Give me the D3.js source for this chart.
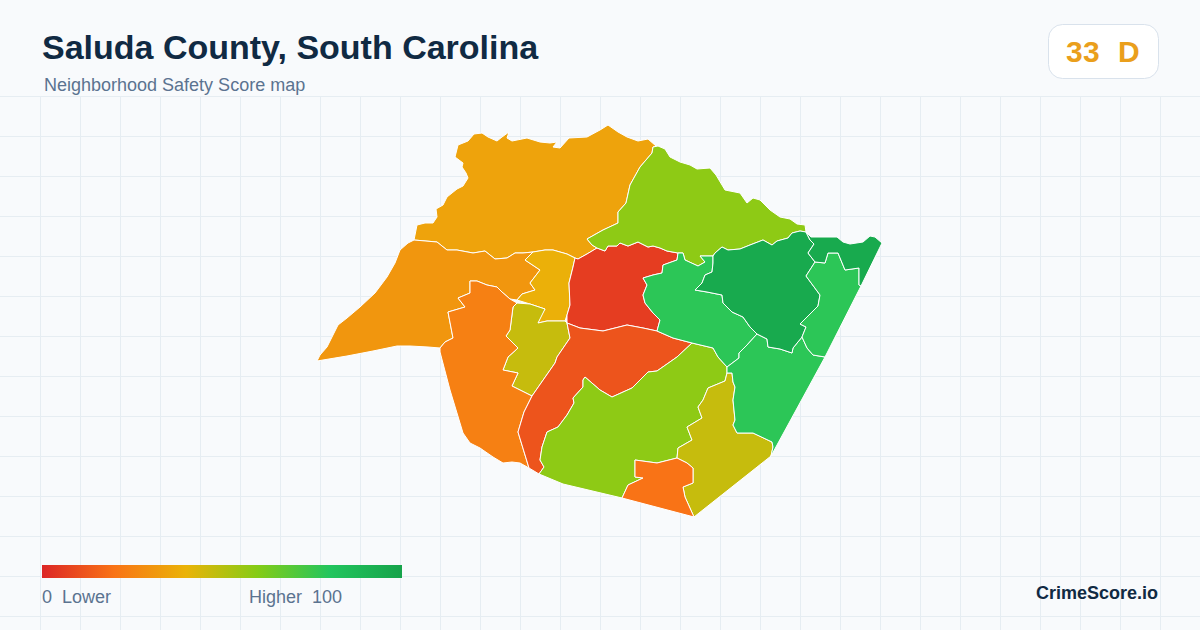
<!DOCTYPE html>
<html>
<head>
<meta charset="utf-8">
<title>Saluda County, South Carolina</title>
<script src="https://cdn.jsdelivr.net/npm/d3@7"></script>
<style>
  html, body { margin: 0; padding: 0; background: #f8fafc; }
  text { font-family: "Liberation Sans", Arial, sans-serif; white-space: pre; }
</style>
</head>
<body>
<div id="chart"></div>
<script>
// tract outlines, traced in map units
const northWest = [[414,240],[417,225],[425,223],[433,223],[437,217],[436,209],[443,205],[447,197],[457,189],[463,186],[468,178],[466,173],[462,167],[463,163],[455,157],[458,145],[468,141],[474,134],[482,133],[488,137],[497,141],[502,137],[509,132],[507,138],[512,141],[527,138],[540,142],[550,143],[557,142],[553,147],[560,148],[569,138],[587,137],[600,130],[608,125],[618,132],[627,137],[638,141],[648,139],[656,146],[653,147],[652,153],[640,167],[630,185],[626,203],[618,212],[618,223],[603,230],[587,239],[592,245],[597,248],[587,254],[578,259],[575,258],[567,254],[553,250],[545,250],[533,252],[523,253],[515,253],[507,258],[495,259],[485,251],[473,253],[457,250],[447,250],[437,242]];
const west = [[414,240],[437,242],[447,250],[457,250],[473,253],[485,251],[495,259],[507,258],[515,253],[523,253],[533,252],[525,260],[540,270],[530,283],[535,290],[522,294],[517,300],[510,299],[502,292],[497,287],[487,285],[477,281],[470,281],[470,293],[458,298],[465,307],[448,312],[453,338],[445,342],[440,348],[428,347],[410,346],[397,346],[373,351],[347,356],[317,361],[320,355],[327,347],[332,337],[338,325],[347,318],[360,307],[375,293],[387,277],[395,263],[400,250],[408,243]];
const westCentre = [[533,252],[545,250],[553,250],[567,254],[575,258],[573,267],[569,283],[570,305],[567,315],[565,321],[547,321],[538,323],[540,317],[545,309],[530,304],[517,300],[522,294],[535,290],[530,283],[540,270],[525,260]];
const southCentreWest = [[517,303],[530,304],[545,309],[538,323],[547,321],[565,321],[567,323],[570,338],[557,357],[555,363],[532,396],[512,386],[518,373],[503,370],[508,357],[518,348],[506,336],[510,330],[513,307]];
const southWest = [[440,348],[445,342],[453,338],[448,312],[465,307],[458,298],[470,293],[470,281],[477,281],[487,285],[497,287],[502,292],[510,299],[517,303],[513,307],[510,330],[506,336],[518,348],[508,357],[503,370],[518,373],[512,386],[532,396],[524,412],[518,432],[529,468],[520,463],[512,462],[503,463],[493,457],[480,448],[470,443],[463,433],[450,390],[440,352]];
const centre = [[575,258],[578,259],[587,254],[597,248],[605,251],[608,246],[617,246],[620,243],[628,246],[638,242],[648,247],[653,246],[660,248],[667,251],[678,253],[677,260],[663,265],[662,273],[653,275],[643,278],[647,285],[643,295],[645,303],[653,313],[660,320],[657,331],[643,328],[627,325],[603,331],[580,328],[567,323],[567,315],[570,305],[569,283],[573,267]];
const centreSouth = [[567,323],[580,328],[603,331],[627,325],[643,328],[657,331],[673,338],[692,343],[677,357],[657,371],[648,372],[637,383],[632,388],[612,397],[600,390],[585,377],[583,380],[583,387],[573,398],[574,403],[567,415],[558,427],[547,432],[542,447],[540,460],[544,467],[539,474],[529,468],[518,432],[524,412],[532,396],[555,363],[557,357],[570,338]];
const south = [[692,343],[713,348],[718,357],[727,367],[727,373],[725,381],[708,388],[703,400],[698,407],[702,418],[687,427],[692,440],[678,448],[677,458],[657,463],[635,460],[635,477],[643,478],[628,485],[622,498],[563,484],[539,474],[544,467],[540,460],[542,447],[547,432],[558,427],[567,415],[574,403],[573,398],[583,387],[583,380],[585,377],[600,390],[612,397],[632,388],[637,383],[648,372],[657,371],[677,357]];
const southEastOlive = [[727,373],[732,373],[733,382],[735,387],[733,400],[735,420],[733,425],[737,433],[753,433],[772,442],[773,447],[771,456],[694,517],[685,497],[683,487],[693,483],[693,468],[687,463],[677,458],[678,448],[692,440],[687,427],[702,418],[698,407],[703,400],[708,388],[725,381]];
const southTip = [[622,498],[628,485],[643,478],[635,477],[635,460],[657,463],[677,458],[687,463],[693,468],[693,483],[683,487],[685,497],[694,517]];
const northEast = [[653,147],[658,146],[665,149],[670,157],[680,162],[690,165],[697,169],[710,168],[716,175],[725,190],[740,193],[747,203],[753,198],[760,200],[770,210],[780,217],[790,219],[797,224],[805,225],[806,232],[800,231],[792,233],[788,238],[777,241],[772,245],[763,240],[750,245],[740,249],[728,250],[722,247],[715,253],[713,256],[700,256],[705,262],[698,266],[685,260],[683,253],[678,253],[667,251],[660,248],[653,246],[648,247],[638,242],[628,246],[620,243],[617,246],[608,246],[605,251],[597,248],[592,245],[587,239],[603,230],[618,223],[618,212],[626,203],[630,185],[640,167],[652,153]];
const eastCentre = [[678,253],[683,253],[685,260],[698,266],[705,262],[700,256],[713,256],[713,263],[712,272],[705,275],[702,283],[695,290],[707,292],[722,295],[723,303],[732,312],[743,317],[750,327],[757,334],[747,345],[739,353],[739,358],[727,367],[718,357],[713,348],[692,343],[673,338],[657,331],[660,320],[653,313],[645,303],[643,295],[647,285],[643,278],[653,275],[662,273],[663,265],[677,260]];
const southEast = [[727,373],[727,367],[739,358],[739,353],[747,345],[757,334],[767,339],[768,347],[780,349],[792,353],[793,348],[802,337],[807,348],[813,355],[825,357],[771,456],[773,447],[772,442],[753,433],[737,433],[733,425],[735,420],[733,400],[735,387],[733,382],[732,373]];
const eastDark = [[713,256],[715,253],[722,247],[728,250],[740,249],[750,245],[763,240],[772,245],[777,241],[788,238],[792,233],[800,231],[806,232],[810,240],[814,244],[808,253],[815,262],[806,276],[820,295],[818,306],[800,324],[806,327],[802,337],[793,348],[792,353],[780,349],[768,347],[767,339],[757,334],[750,327],[743,317],[732,312],[723,303],[722,295],[707,292],[695,290],[702,283],[705,275],[712,272],[713,263]];
const eastStrip = [[815,262],[825,263],[828,253],[838,253],[845,270],[859,268],[859,285],[861,286],[825,357],[813,355],[807,348],[802,337],[806,327],[800,324],[818,306],[820,295],[806,276]];
const northEastCorner = [[806,232],[811,237],[823,237],[837,237],[843,242],[850,244],[863,242],[870,236],[875,237],[882,243],[861,286],[859,285],[859,268],[845,270],[838,253],[828,253],[825,263],[815,262],[808,253],[814,244],[810,240]];

const tractShapes = [northWest, west, westCentre, southCentreWest, southWest, centre, centreSouth, south, southEastOlive, southTip, northEast, eastCentre, southEast, eastDark, eastStrip, northEastCorner];
const tractScores = [35, 31, 39, 47, 24, 6, 12, 58, 47, 20, 58, 78, 78, 96, 78, 96];

const legendStops = [0, 20, 40, 60, 80, 100];
const legendColors = ["#dc2626", "#f97316", "#eab308", "#84cc16", "#22c55e", "#16a34a"];
const countyName = "Saluda County, South Carolina";
const subtitle = "Neighborhood Safety Score map";
const scoreLabel = "33  D";
const lowLabel = "0  Lower";
const highLabel = "Higher  100";

const width = 1200;
const height = 630;

const svg = d3.select("#chart")
    .append("svg")
    .attr("width", width)
    .attr("height", height)
    .style("display", "block");

svg.append("rect")
    .attr("width", width)
    .attr("height", height)
    .attr("fill", "#f8fafc");

// background grid
const gridX = d3.range(40, width, 40);
const gridY = d3.range(96, height, 40);

svg.selectAll("line.vgrid")
    .data(gridX)
    .enter()
    .append("line")
    .attr("class", "vgrid")
    .attr("x1", d => d + 0.5)
    .attr("x2", d => d + 0.5)
    .attr("y1", 96)
    .attr("y2", height)
    .attr("stroke", "#e6edf2")
    .attr("stroke-width", 1);

svg.selectAll("line.hgrid")
    .data(gridY)
    .enter()
    .append("line")
    .attr("class", "hgrid")
    .attr("x1", 0)
    .attr("x2", width)
    .attr("y1", d => d + 0.5)
    .attr("y2", d => d + 0.5)
    .attr("stroke", "#e6edf2")
    .attr("stroke-width", 1);

// map
const color = d3.scaleLinear().domain(legendStops).range(legendColors);
const path = d3.geoPath().projection(d3.geoIdentity());

const features = tractShapes.map((ring, i) => ({
    type: "Feature",
    properties: { score: tractScores[i] },
    geometry: { type: "MultiLineString", coordinates: [ring.concat([ring[0]])] }
}));

svg.selectAll("path.tract")
    .data(features)
    .enter()
    .append("path")
    .attr("class", "tract")
    .attr("d", d => path(d) + "Z")
    .attr("fill", d => color(d.properties.score))
    .attr("stroke", "#ffffff")
    .attr("stroke-width", 1)
    .attr("stroke-linejoin", "round");

// header
svg.append("text")
    .attr("x", 42)
    .attr("y", 59)
    .attr("font-size", 34)
    .attr("font-weight", 700)
    .attr("fill", "#102a43")
    .text(countyName);

svg.append("text")
    .attr("x", 44)
    .attr("y", 91)
    .attr("font-size", 18)
    .attr("fill", "#5b7390")
    .text(subtitle);

svg.append("rect")
    .attr("x", 1048.5)
    .attr("y", 24.5)
    .attr("width", 110)
    .attr("height", 54)
    .attr("rx", 14)
    .attr("fill", "#ffffff")
    .attr("stroke", "#d9e2ec");

svg.append("text")
    .attr("x", 1103)
    .attr("y", 62)
    .attr("text-anchor", "middle")
    .attr("font-size", 30)
    .attr("font-weight", 700)
    .attr("letter-spacing", 0.5)
    .attr("fill", "#ea9f1c")
    .text(scoreLabel);

// legend
const legendX = d3.scaleLinear().domain([0, 100]).range([42, 402]);

const gradient = svg.append("defs")
    .append("linearGradient")
    .attr("id", "score-gradient");

gradient.selectAll("stop")
    .data(legendStops)
    .enter()
    .append("stop")
    .attr("offset", d => d + "%")
    .attr("stop-color", d => color(d));

svg.append("rect")
    .attr("x", legendX(0))
    .attr("y", 565)
    .attr("width", legendX(100) - legendX(0))
    .attr("height", 13)
    .attr("fill", "url(#score-gradient)");

svg.append("text")
    .attr("x", 42)
    .attr("y", 603)
    .attr("font-size", 18)
    .attr("fill", "#5b7390")
    .text(lowLabel);

svg.append("text")
    .attr("x", 249)
    .attr("y", 603)
    .attr("font-size", 18)
    .attr("fill", "#5b7390")
    .text(highLabel);

svg.append("text")
    .attr("x", 1158)
    .attr("y", 599)
    .attr("text-anchor", "end")
    .attr("font-size", 18)
    .attr("font-weight", 700)
    .attr("fill", "#102a43")
    .text("CrimeScore.io");
</script>
</body>
</html>
